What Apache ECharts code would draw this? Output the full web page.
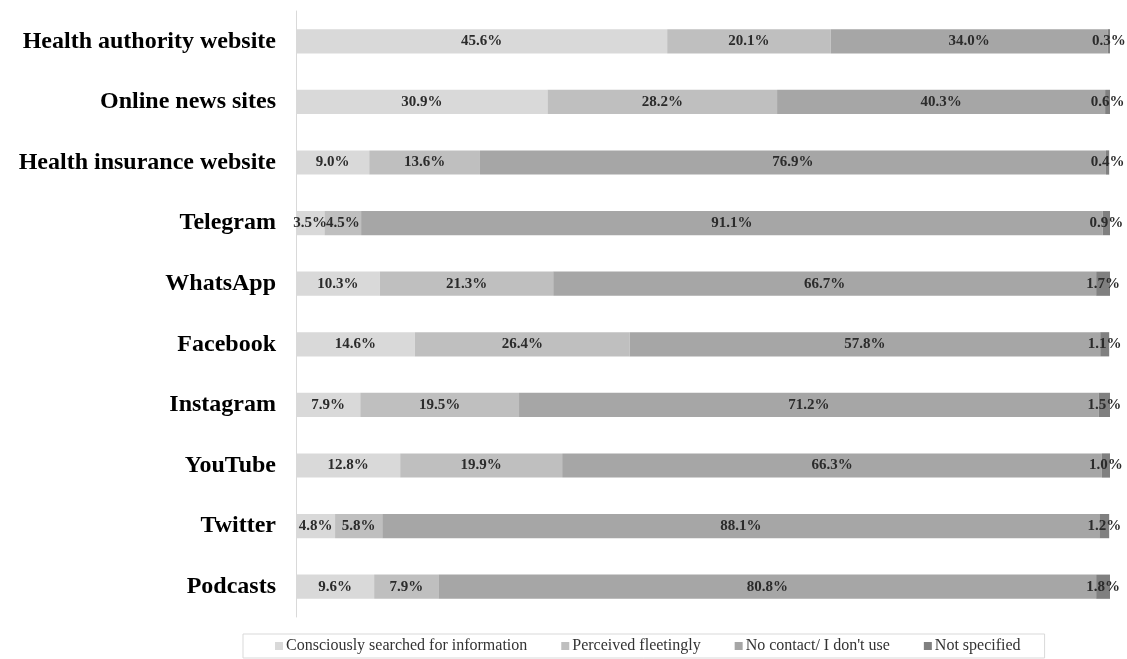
<!DOCTYPE html>
<html>
<head>
<meta charset="utf-8">
<script src="https://cdn.jsdelivr.net/npm/echarts@6/dist/echarts.min.js"></script>
<style>
html,body{margin:0;padding:0;background:#fff;}
#main{width:1127px;height:659px;}
</style>
</head>
<body>
<div id="main"></div>
<script>
// 渠道
var categories = ["Health authority website","Online news sites","Health insurance website","Telegram","WhatsApp","Facebook","Instagram","YouTube","Twitter","Podcasts"];
// 各系列数值 (%)
var searched = [45.6,30.9,9.0,3.5,10.3,14.6,7.9,12.8,4.8,9.6];
var fleeting = [20.1,28.2,13.6,4.5,21.3,26.4,19.5,19.9,5.8,7.9];
var noContact = [34.0,40.3,76.9,91.1,66.7,57.8,71.2,66.3,88.1,80.8];
var notSpecified = [0.3,0.6,0.4,0.9,1.7,1.1,1.5,1.0,1.2,1.8];
var seriesNames = ["Consciously searched for information","Perceived fleetingly","No contact/ I don't use","Not specified"];
var colors = ["#d9d9d9","#bfbfbf","#a6a6a6","#808080"];

var chart = echarts.init(document.getElementById("main"));

function mk(name,data,color){
    return {
        name:name,
        type:"bar",
        stack:"all",
        barWidth:"40%",
        data:data,
        itemStyle:{color:color},
        label:{
            show:true,
            position:"inside",
            formatter:function(p){return p.value.toFixed(1)+"%";},
            fontFamily:"Liberation Serif",
            fontWeight:"bold",
            fontSize:15,
            color:"#2b2b2b"
        }
    };
}

var option = {
    animation:false,
    textStyle:{fontFamily:"Liberation Serif"},
    grid:{left:296,right:17,top:11,bottom:42},
    xAxis:{
        type:"value",
        min:0,
        max:100,
        show:false
    },
    yAxis:{
        type:"category",
        data:categories,
        inverse:true,
        axisTick:{show:false},
        axisLine:{show:true,lineStyle:{color:"#d9d9d9",width:1}},
        axisLabel:{
            margin:20,
            fontFamily:"Liberation Serif",
            fontWeight:"bold",
            fontSize:24,
            color:"#000"
        }
    },
    legend:{
        left:243,
        top:634,
        data:seriesNames,
        icon:"rect",
        itemWidth:8,
        itemHeight:8,
        itemGap:34,
        padding:[4,24,4,32],
        borderColor:"#d9d9d9",
        borderWidth:1,
        textStyle:{fontFamily:"Liberation Serif",fontSize:16,color:"#333",padding:[0,0,0,-2]}
    },
    series:[
        mk(seriesNames[0],searched,colors[0]),
        mk(seriesNames[1],fleeting,colors[1]),
        mk(seriesNames[2],noContact,colors[2]),
        mk(seriesNames[3],notSpecified,colors[3])
    ]
};
chart.setOption(option);
</script>
</body>
</html>
